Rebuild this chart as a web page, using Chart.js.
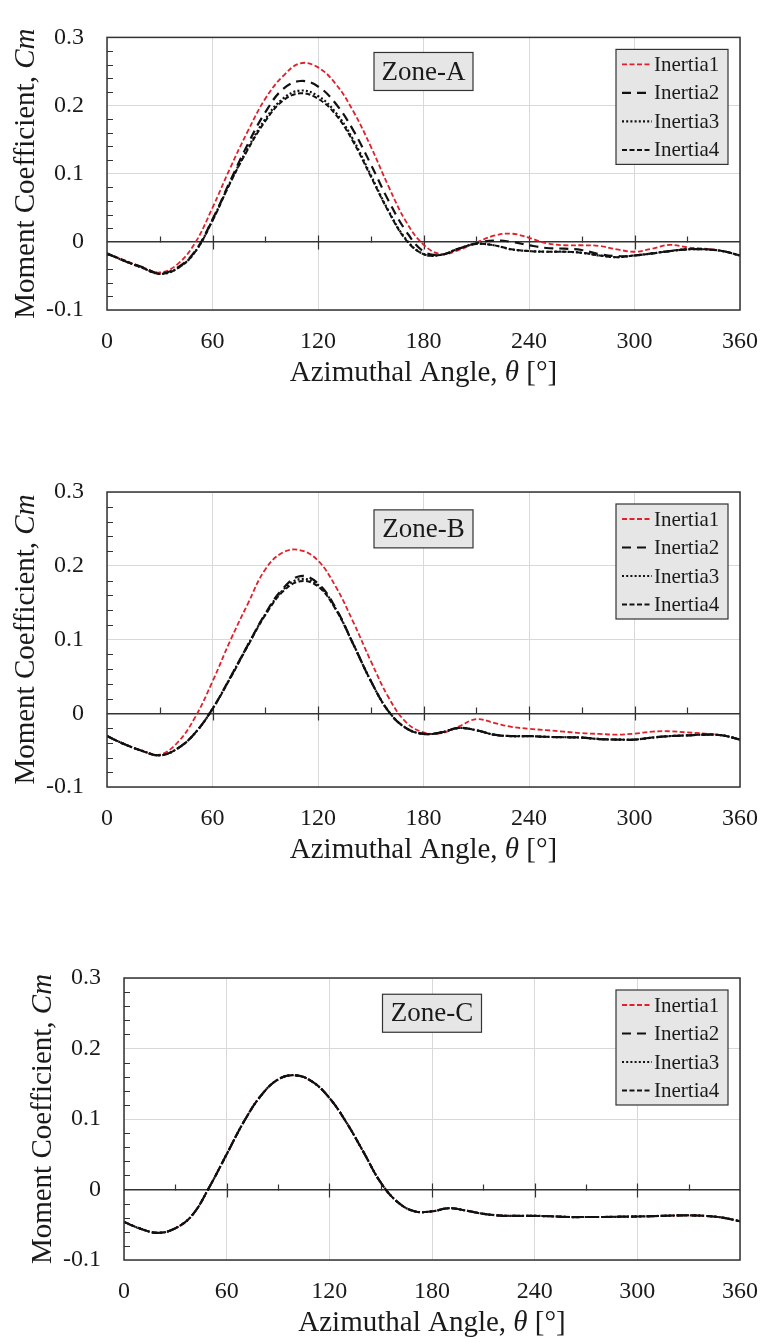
<!DOCTYPE html>
<html>
<head>
<meta charset="utf-8">
<script src="https://cdn.jsdelivr.net/npm/chart.js@4.4.1/dist/chart.umd.min.js"></script>
<style>
  html, body { margin: 0; padding: 0; background: #fff; }
  #page { position: relative; width: 775px; height: 1344px; }
  .panel { position: absolute; left: 0; width: 775px; }
</style>
</head>
<body>
<div id="page">
  <div class="panel" style="top:0;height:440px"><canvas id="zoneA"></canvas></div>
  <div class="panel" style="top:440px;height:470px"><canvas id="zoneB"></canvas></div>
  <div class="panel" style="top:910px;height:434px"><canvas id="zoneC"></canvas></div>
</div>
<script>
// azimuthal positions of the samples, degrees
const angles = [0, 10, 20, 30, 40, 50, 60, 70, 80, 90, 100, 110, 120, 130, 140, 150, 160, 170, 180,
  190, 200, 210, 220, 230, 240, 250, 260, 270, 280, 290, 300, 310, 320, 330, 340, 350, 360];

const xTicks = [0, 60, 120, 180, 240, 300, 360];
const yTicks = [-0.1, 0, 0.1, 0.2, 0.3];
const zeroLineTicks = [30, 60, 90, 120, 150, 180, 210, 240, 270, 300, 330];
const yMinorTicks = [-0.08, -0.06, -0.04, -0.02, 0.02, 0.04, 0.06, 0.08, 0.12, 0.14, 0.16, 0.18,
  0.22, 0.24, 0.26, 0.28];
const seriesNames = ["Inertia1", "Inertia2", "Inertia3", "Inertia4"];

// Zone-A
const cmA1 = [-0.017, -0.027, -0.037, -0.045, -0.033, -0.002, 0.050, 0.108, 0.162, 0.210, 0.243, 0.262,
  0.256, 0.232, 0.192, 0.140, 0.082, 0.030, -0.004, -0.018, -0.012, -0.001, 0.009, 0.012, 0.006,
  -0.002, -0.005, -0.005, -0.006, -0.011, -0.0145, -0.010, -0.0045, -0.008, -0.010, -0.0135, -0.020];
const cmA2 = [-0.017, -0.028, -0.037, -0.046, -0.038, -0.014, 0.033, 0.089, 0.143, 0.190, 0.224, 0.236,
  0.228, 0.203, 0.164, 0.114, 0.061, 0.016, -0.014, -0.019, -0.010, -0.002, 0.002, 0.000, -0.005,
  -0.009, -0.010, -0.012, -0.018, -0.021, -0.020, -0.017, -0.0135, -0.011, -0.011, -0.0135, -0.020];
const cmA3 = [-0.017, -0.028, -0.038, -0.047, -0.039, -0.015, 0.032, 0.087, 0.137, 0.180, 0.210, 0.222,
  0.214, 0.190, 0.150, 0.098, 0.046, 0.004, -0.018, -0.019, -0.010, -0.003, -0.005, -0.011, -0.0135,
  -0.0145, -0.0145, -0.016, -0.020, -0.0225, -0.020, -0.017, -0.0135, -0.011, -0.011, -0.0135, -0.020];
const cmA4 = [-0.017, -0.028, -0.038, -0.047, -0.039, -0.015, 0.031, 0.086, 0.135, 0.177, 0.207, 0.218,
  0.210, 0.187, 0.147, 0.096, 0.045, 0.003, -0.018, -0.019, -0.010, -0.003, -0.005, -0.011, -0.0135,
  -0.0145, -0.0145, -0.016, -0.020, -0.0225, -0.020, -0.017, -0.0135, -0.011, -0.011, -0.0135, -0.020];

// Zone-B
const cmB1 = [-0.031, -0.042, -0.051, -0.056, -0.040, -0.006, 0.043, 0.098, 0.148, 0.195, 0.218, 0.221,
  0.207, 0.172, 0.124, 0.071, 0.022, -0.012, -0.026, -0.027, -0.018, -0.008, -0.013, -0.0185, -0.021,
  -0.023, -0.025, -0.027, -0.028, -0.029, -0.0276, -0.025, -0.0244, -0.026, -0.0276, -0.030, -0.0357];
const cmB2 = [-0.031, -0.042, -0.051, -0.057, -0.048, -0.027, 0.006, 0.048, 0.092, 0.135, 0.169, 0.186,
  0.176, 0.143, 0.094, 0.044, 0.003, -0.020, -0.028, -0.026, -0.020, -0.023, -0.029, -0.031, -0.031,
  -0.032, -0.0325, -0.033, -0.035, -0.0357, -0.0357, -0.033, -0.031, -0.030, -0.029, -0.030, -0.0357];
const cmB3 = [-0.031, -0.042, -0.051, -0.057, -0.048, -0.027, 0.006, 0.048, 0.092, 0.134, 0.167, 0.182,
  0.174, 0.142, 0.094, 0.044, 0.003, -0.020, -0.028, -0.026, -0.020, -0.023, -0.029, -0.031, -0.031,
  -0.032, -0.0325, -0.033, -0.035, -0.0357, -0.0357, -0.033, -0.031, -0.030, -0.029, -0.030, -0.0357];
const cmB4 = [-0.031, -0.042, -0.051, -0.057, -0.048, -0.027, 0.006, 0.047, 0.091, 0.133, 0.165, 0.179,
  0.172, 0.141, 0.094, 0.044, 0.003, -0.020, -0.028, -0.026, -0.020, -0.023, -0.029, -0.031, -0.031,
  -0.032, -0.0325, -0.033, -0.035, -0.0357, -0.0357, -0.033, -0.031, -0.030, -0.029, -0.030, -0.0357];

// Zone-C: the four inertias collapse onto one curve
const cmC1 = [-0.046, -0.056, -0.0615, -0.055, -0.036, 0.004, 0.050, 0.096, 0.133, 0.156, 0.162,
  0.153, 0.130, 0.095, 0.053, 0.010, -0.018, -0.031, -0.031, -0.0265, -0.030, -0.0345, -0.037,
  -0.0374, -0.0374, -0.038, -0.039, -0.039, -0.039, -0.0386, -0.0383, -0.0377, -0.037, -0.0367,
  -0.0375, -0.040, -0.045];
const cmC2 = cmC1.slice();
const cmC3 = cmC1.slice();
const cmC4 = cmC1.slice();

const serif = '"Liberation Serif", "Times New Roman", serif';
const lineStyles = [
  { color: "#e0202a", dash: [5, 2.5], width: 1.8 },
  { color: "#111", dash: [9, 6], width: 2.2 },
  { color: "#111", dash: [2, 2.2], width: 2.2 },
  { color: "#111", dash: [5, 2.5], width: 2 },
];

const xTitle = [["Azimuthal Angle, ", false], ["\u03b8", true], [" [\u00b0]", false]];
const yTitle = [["Moment Coefficient, ", false], ["Cm", true]];

function drawRich(ctx, parts, cx, cy, size) {
  const fontOf = (it) => (it ? "italic " : "") + size + "px " + serif;
  let total = 0;
  parts.forEach(([t, it]) => { ctx.font = fontOf(it); total += ctx.measureText(t).width; });
  let x = cx - total / 2;
  ctx.textAlign = "left";
  ctx.textBaseline = "middle";
  parts.forEach(([t, it]) => {
    ctx.font = fontOf(it);
    ctx.fillText(t, x, cy);
    x += ctx.measureText(t).width;
  });
}

const decor = {
  id: "decor",
  beforeDatasetsDraw(chart) {
    const { ctx, chartArea: a, scales: { x, y } } = chart;
    const y0 = Math.round(y.getPixelForValue(0)) + 0.5;
    ctx.save();
    ctx.strokeStyle = "#333";
    ctx.lineWidth = 1.2;
    ctx.beginPath();
    // tick marks sitting on the zero line
    zeroLineTicks.forEach((deg) => {
      const px = Math.round(x.getPixelForValue(deg)) + 0.5;
      const major = deg % 60 === 0;
      ctx.moveTo(px, y0 - (major ? 7 : 6));
      ctx.lineTo(px, y0 + (major ? 7 : 0));
    });
    // small inward ticks on the left edge
    yMinorTicks.forEach((v) => {
      const py = Math.round(y.getPixelForValue(v)) + 0.5;
      ctx.moveTo(a.left, py);
      ctx.lineTo(a.left + 6, py);
    });
    ctx.stroke();
    ctx.restore();
  },
  afterDraw(chart, args, opts) {
    const { ctx, chartArea: a, scales: { x, y } } = chart;
    ctx.save();
    // plot frame
    ctx.strokeStyle = "#333";
    ctx.lineWidth = 1.5;
    ctx.strokeRect(a.left, a.top, a.right - a.left, a.bottom - a.top);

    // zone tag
    const zx = x.getPixelForValue(180), zy = y.getPixelForValue(0.25);
    ctx.fillStyle = "#e6e6e6";
    ctx.fillRect(zx - 49.5, zy - 19, 99, 38);
    ctx.lineWidth = 1.2;
    ctx.strokeRect(zx - 49.5, zy - 19, 99, 38);
    ctx.fillStyle = "#1a1a1a";
    ctx.font = "27px " + serif;
    ctx.textAlign = "center";
    ctx.textBaseline = "middle";
    ctx.fillText(opts.zone, zx, zy + 1);

    // legend
    const w = 112, h = 115;
    const lx = a.right - 12 - w, ly = a.top + 12;
    ctx.fillStyle = "#e6e6e6";
    ctx.fillRect(lx, ly, w, h);
    ctx.strokeRect(lx, ly, w, h);
    ctx.font = "21px " + serif;
    ctx.textAlign = "left";
    chart.data.datasets.forEach((ds, i) => {
      const cy = ly + 15 + i * 28.5;
      ctx.save();
      ctx.setLineDash(ds.borderDash);
      ctx.strokeStyle = ds.borderColor;
      ctx.lineWidth = ds.borderWidth;
      ctx.beginPath();
      ctx.moveTo(lx + 6, cy);
      ctx.lineTo(lx + 36, cy);
      ctx.stroke();
      ctx.restore();
      ctx.fillStyle = "#1a1a1a";
      ctx.fillText(ds.label, lx + 38, cy + 1);
    });

    // axis titles
    ctx.fillStyle = "#1a1a1a";
    drawRich(ctx, xTitle, (a.left + a.right) / 2, a.bottom + 63, 29);
    ctx.translate(a.left - 81, (a.top + a.bottom) / 2);
    ctx.rotate(-Math.PI / 2);
    drawRich(ctx, yTitle, 0, 0, 29);
    ctx.restore();
  },
};

function makeChart(id, zone, series, f) {
  return new Chart(document.getElementById(id), {
    type: "line",
    data: {
      datasets: series.map((vals, i) => ({
        label: seriesNames[i],
        data: angles.map((a, k) => ({ x: a, y: vals[k] })),
        borderColor: lineStyles[i].color,
        borderDash: lineStyles[i].dash,
        borderWidth: lineStyles[i].width,
        pointRadius: 0,
        fill: false,
        tension: 0.4,
        order: 4 - i,
      })),
    },
    options: {
      responsive: true,
      maintainAspectRatio: false,
      animation: false,
      layout: { padding: { left: 0, top: f.top, right: f.right, bottom: 0 } },
      plugins: { legend: { display: false }, tooltip: { enabled: false }, decor: { zone } },
      scales: {
        x: {
          type: "linear",
          min: 0,
          max: 360,
          afterBuildTicks: (s) => { s.ticks = xTicks.map((v) => ({ value: v })); },
          afterFit: (s) => { s.height = f.axisH; },
          grid: { color: "#d9d9d9", lineWidth: 1, drawTicks: false },
          border: { display: false },
          ticks: { padding: 17, maxRotation: 0, autoSkip: false, color: "#1a1a1a",
            font: { family: serif, size: 24 }, callback: (v) => String(v) },
        },
        y: {
          min: -0.1,
          max: 0.3,
          afterBuildTicks: (s) => { s.ticks = yTicks.map((v) => ({ value: v })); },
          afterFit: (s) => { s.width = f.left; },
          grid: {
            color: (c) => (c.tick && c.tick.value === 0 ? "#333" : "#d9d9d9"),
            lineWidth: (c) => (c.tick && c.tick.value === 0 ? 1.4 : 1),
            drawTicks: false,
          },
          border: { display: false },
          ticks: { padding: 23, color: "#1a1a1a", font: { family: serif, size: 24 },
            callback: (v) => String(Math.round(v * 10) / 10) },
        },
      },
    },
    plugins: [decor],
  });
}

makeChart("zoneA", "Zone-A", [cmA1, cmA2, cmA3, cmA4], { left: 107, top: 15, right: 25, axisH: 130 });
makeChart("zoneB", "Zone-B", [cmB1, cmB2, cmB3, cmB4], { left: 107, top: 52, right: 25, axisH: 123 });
makeChart("zoneC", "Zone-C", [cmC1, cmC2, cmC3, cmC4], { left: 124, top: 68, right: 20, axisH: 84 });
</script>
</body>
</html>
